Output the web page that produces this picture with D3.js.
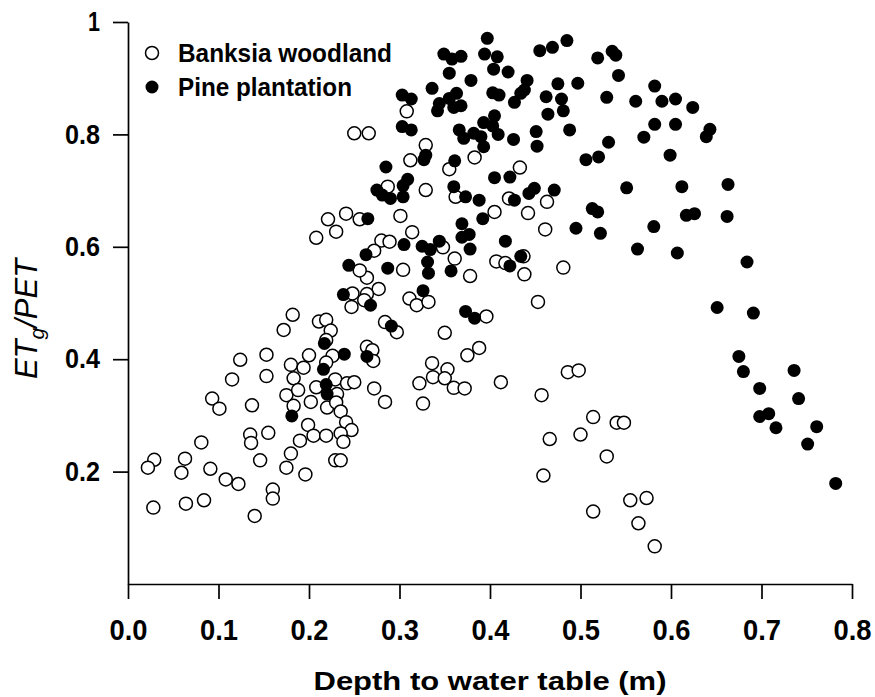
<!DOCTYPE html>
<html>
<head>
<meta charset="utf-8">
<script src="https://cdn.jsdelivr.net/npm/d3@7"></script>
<style>
  html, body { margin: 0; padding: 0; background: #fff; }
  svg { display: block; }
  text { font-family: Arial, "Liberation Sans", Helvetica, sans-serif; fill: #000; }
</style>
</head>
<body>
<svg id="chart" width="875" height="697"></svg>
<script>
// Depth to water table (m) and ETg/PET for the two vegetation types
const banksiaDepth = [0.250,0.266,0.308,0.329,0.312,0.355,0.383,0.433,0.329,0.287,0.362,0.421,0.463,
  0.301,0.405,0.442,0.461,0.314,0.280,0.289,0.272,0.348,0.361,0.304,0.378,0.407,0.417,0.437,0.438,0.481,
  0.264,0.277,0.264,0.311,0.319,0.332,0.453,0.396,0.284,0.297,0.350,0.264,0.270,0.271,0.388,0.375,0.336,
  0.353,0.337,0.350,0.322,0.412,0.486,0.498,
  0.272,0.284,0.326,0.360,0.372,0.457,0.514,0.500,0.466,0.529,0.459,0.514,
  0.540,0.548,0.555,0.573,0.564,0.582,
  0.241,0.221,0.256,0.230,0.208,0.256,0.248,0.247,0.261,0.182,0.211,0.219,0.172,0.224,0.219,0.153,0.200,
  0.226,0.124,0.180,0.194,0.219,0.153,0.183,0.115,0.208,0.229,0.242,0.250,
  0.093,0.101,0.137,0.175,0.188,0.202,0.183,0.220,0.231,0.230,0.235,0.241,0.247,0.199,0.205,0.219,0.235,
  0.238,0.190,0.135,0.136,0.155,0.081,0.180,0.175,0.196,0.229,0.235,0.146,0.029,0.022,0.063,0.059,0.091,
  0.108,0.122,0.160,0.160,0.028,0.064,0.084,0.140];
const banksiaRatio = [0.802,0.802,0.841,0.781,0.754,0.738,0.759,0.741,0.701,0.707,0.689,0.686,0.680,
  0.655,0.662,0.660,0.631,0.626,0.611,0.609,0.593,0.599,0.579,0.559,0.548,0.574,0.571,0.583,0.551,0.563,
  0.545,0.525,0.516,0.508,0.496,0.502,0.502,0.476,0.466,0.448,0.447,0.422,0.416,0.397,0.420,0.407,0.393,
  0.382,0.368,0.366,0.357,0.359,0.377,0.380,
  0.348,0.324,0.321,0.349,0.348,0.336,0.297,0.266,0.258,0.227,0.193,0.129,
  0.287,0.287,0.149,0.153,0.108,0.067,
  0.659,0.649,0.649,0.627,0.616,0.558,0.517,0.493,0.505,0.479,0.467,0.470,0.452,0.451,0.434,0.408,0.407,
  0.406,0.399,0.390,0.385,0.394,0.370,0.366,0.364,0.350,0.364,0.357,0.359,
  0.330,0.312,0.318,0.336,0.345,0.324,0.317,0.314,0.338,0.323,0.307,0.288,0.274,0.283,0.264,0.264,0.268,
  0.253,0.255,0.266,0.251,0.269,0.252,0.232,0.207,0.195,0.220,0.220,0.220,0.221,0.207,0.223,0.198,0.205,
  0.186,0.178,0.168,0.152,0.136,0.143,0.149,0.121];

const pineDepth = [0.397,0.394,0.408,0.349,0.358,0.368,0.355,0.404,0.420,0.379,0.336,0.303,0.313,0.344,
  0.355,0.363,0.342,0.360,0.368,0.403,0.410,0.427,0.434,0.441,0.438,0.455,0.469,0.485,0.519,0.529,0.475,
  0.497,0.462,0.479,0.481,0.464,0.488,0.451,0.452,0.426,0.405,0.393,0.403,0.409,0.366,0.371,0.382,0.390,
  0.393,0.303,0.313,0.329,0.327,0.285,0.361,0.405,0.422,0.449,0.443,0.471,0.506,0.520,0.531,0.309,0.304,
  0.275,0.281,0.290,0.304,0.360,0.373,0.388,0.427,
  0.535,0.539,0.542,0.582,0.561,0.590,0.605,0.624,0.582,0.605,0.643,0.639,0.570,0.599,0.551,0.612,0.663,
  0.581,0.617,0.626,0.662,0.563,0.607,0.684,0.651,0.691,0.675,0.680,0.736,
  0.698,0.741,0.698,0.708,0.716,0.761,0.751,0.782,
  0.265,0.369,0.392,0.369,0.377,0.378,0.417,0.495,0.522,0.513,0.519,0.305,0.325,0.334,0.344,0.331,0.332,
  0.357,0.287,0.434,0.422,0.326,0.268,0.373,0.383,0.291,0.264,0.263,
  0.244,0.238,0.217,0.239,0.216,0.219,0.220,0.181];
const pineRatio = [0.971,0.943,0.938,0.943,0.934,0.939,0.909,0.916,0.911,0.896,0.882,0.870,0.863,0.855,
  0.864,0.873,0.842,0.848,0.851,0.874,0.870,0.857,0.873,0.896,0.879,0.949,0.955,0.967,0.936,0.866,0.890,
  0.891,0.867,0.863,0.842,0.836,0.808,0.805,0.779,0.791,0.833,0.821,0.815,0.800,0.808,0.793,0.802,0.796,
  0.778,0.814,0.808,0.763,0.755,0.742,0.753,0.723,0.724,0.704,0.695,0.701,0.755,0.760,0.786,0.720,0.709,
  0.701,0.692,0.686,0.689,0.707,0.689,0.683,0.683,
  0.948,0.941,0.905,0.886,0.859,0.859,0.863,0.848,0.818,0.818,0.809,0.796,0.795,0.763,0.705,0.707,0.711,
  0.636,0.656,0.659,0.654,0.596,0.589,0.573,0.492,0.482,0.405,0.378,0.380,
  0.348,0.330,0.298,0.303,0.278,0.280,0.249,0.179,
  0.650,0.641,0.650,0.617,0.622,0.596,0.610,0.633,0.624,0.668,0.662,0.604,0.601,0.595,0.610,0.573,0.553,
  0.557,0.562,0.583,0.566,0.522,0.496,0.485,0.473,0.459,0.405,0.586,
  0.567,0.515,0.428,0.409,0.382,0.355,0.338,0.299];

const xTicks = [0.0,0.1,0.2,0.3,0.4,0.5,0.6,0.7,0.8];
const yTicks = [0.2,0.4,0.6,0.8,1.0];
const seriesNames = ["Banksia woodland", "Pine plantation"];

const svg = d3.select("#chart");
const x = d3.scaleLinear().domain([0, 0.8]).range([128, 852]);
const y = d3.scaleLinear().domain([0, 1]).range([584, 22]);
const r = 6.5;

// Axes
const yAxis = d3.axisLeft(y).tickValues(yTicks)
  .tickFormat(d => d === 1 ? "1" : d.toFixed(1))
  .tickSize(15).tickSizeOuter(0).tickPadding(13);
const xAxis = d3.axisBottom(x).tickValues(xTicks)
  .tickFormat(d => d.toFixed(1))
  .tickSize(15).tickSizeOuter(0).tickPadding(20);

const gy = svg.append("g").attr("transform", "translate(128,0)").call(yAxis);
const gx = svg.append("g").attr("transform", "translate(0,584)").call(xAxis);

[gx, gy].forEach(g => {
  g.selectAll("path.domain").attr("stroke", "#000").attr("stroke-width", 1.7);
  g.selectAll(".tick line").attr("stroke", "#000").attr("stroke-width", 1.7);
  g.selectAll(".tick text")
    .attr("font-family", "Arial, 'Liberation Sans', sans-serif")
    .attr("font-weight", "bold")
    .attr("fill", "#000");
});
gy.selectAll(".tick text").attr("font-size", 27)
  .attr("textLength", d => d === 1 ? 12 : 35).attr("lengthAdjust", "spacingAndGlyphs");
gx.selectAll(".tick text").attr("font-size", 30)
  .attr("textLength", 38).attr("lengthAdjust", "spacingAndGlyphs");

// Axis titles
svg.append("text")
  .attr("x", 490).attr("y", 690)
  .attr("text-anchor", "middle")
  .attr("font-size", 26).attr("font-weight", "bold")
  .attr("textLength", 353).attr("lengthAdjust", "spacingAndGlyphs")
  .text("Depth to water table (m)");

const yt = svg.append("text")
  .attr("transform", "translate(37,319) rotate(-90)")
  .attr("text-anchor", "middle")
  .attr("font-size", 31).attr("font-style", "italic");
yt.append("tspan").text("ET");
yt.append("tspan").attr("font-size", 21).attr("dy", 7).text("g");
yt.append("tspan").attr("dy", -7).text("/PET");

// Points
const banksia = banksiaDepth.map((d, i) => ({ d, v: banksiaRatio[i] }));
const pine = pineDepth.map((d, i) => ({ d, v: pineRatio[i] }));

svg.append("g").selectAll("circle").data(banksia).join("circle")
  .attr("cx", p => x(p.d)).attr("cy", p => y(p.v)).attr("r", r)
  .attr("fill", "#fff").attr("stroke", "#000").attr("stroke-width", 1.5);

svg.append("g").selectAll("circle").data(pine).join("circle")
  .attr("cx", p => x(p.d)).attr("cy", p => y(p.v)).attr("r", r)
  .attr("fill", "#000");

// Legend
const legend = svg.append("g");
legend.append("circle").attr("cx", 152).attr("cy", 53).attr("r", r)
  .attr("fill", "#fff").attr("stroke", "#000").attr("stroke-width", 1.5);
legend.append("circle").attr("cx", 152).attr("cy", 87).attr("r", r).attr("fill", "#000");
legend.append("text").attr("x", 178).attr("y", 62)
  .attr("font-size", 26).attr("font-weight", "bold")
  .attr("textLength", 214).attr("lengthAdjust", "spacingAndGlyphs")
  .text(seriesNames[0]);
legend.append("text").attr("x", 178).attr("y", 96)
  .attr("font-size", 26).attr("font-weight", "bold")
  .attr("textLength", 174).attr("lengthAdjust", "spacingAndGlyphs")
  .text(seriesNames[1]);
</script>
</body>
</html>
